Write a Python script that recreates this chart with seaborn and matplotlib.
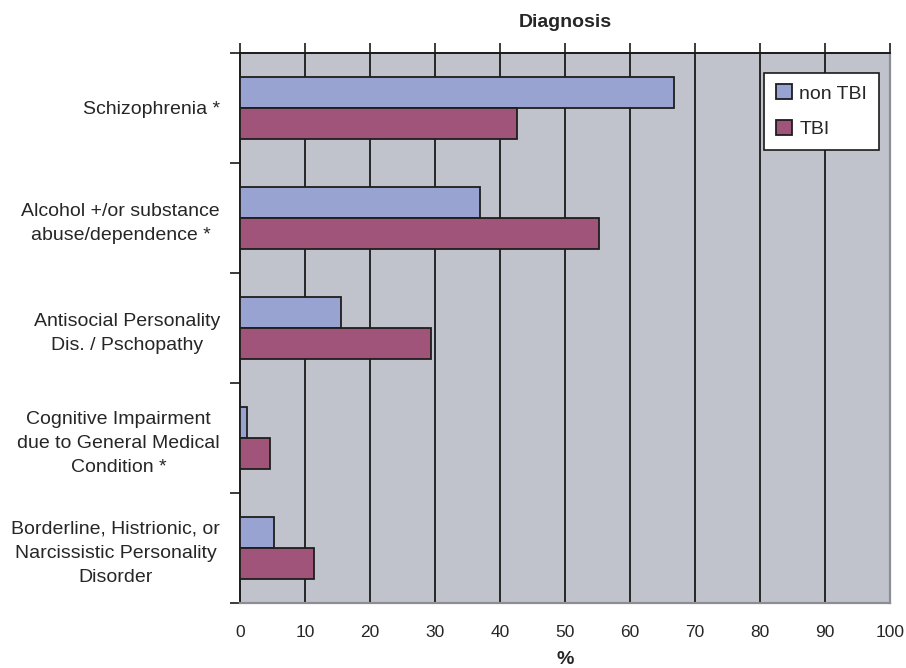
"""
Diagnosis by TBI status - horizontal grouped bar chart.
"""

import matplotlib
matplotlib.use("Agg")
import matplotlib.pyplot as plt
import seaborn as sns
import pandas as pd

categories = [
    "Schizophrenia *",
    "Alcohol +/or substance\nabuse/dependence *",
    "Antisocial Personality\nDis. / Pschopathy",
    "Cognitive Impairment\ndue to General Medical\nCondition *",
    "Borderline, Histrionic, or\nNarcissistic Personality\nDisorder",
]
non_tbi = [66.7, 36.9, 15.5, 1.1, 5.3]
tbi = [42.6, 55.2, 29.4, 4.6, 11.4]
groups = ["non TBI", "TBI"]
x_ticks = [0, 10, 20, 30, 40, 50, 60, 70, 80, 90, 100]

df = pd.DataFrame({
    "diagnosis": categories * 2,
    "pct": non_tbi + tbi,
    "group": [groups[0]] * len(categories) + [groups[1]] * len(categories),
})

sns.set_style("white")
plt.rcParams["font.family"] = ["Liberation Sans", "DejaVu Sans"]

fig = plt.figure(figsize=(9.06, 6.68), dpi=100)
ax = fig.add_axes([240 / 906, 1 - 603 / 668, 650 / 906, 550 / 668])
ax.set_facecolor("#c0c3cb")

palette = {"non TBI": "#99a3d2", "TBI": "#a0547a"}
sns.barplot(data=df, y="diagnosis", x="pct", hue="group", hue_order=groups,
            order=categories, palette=palette, orient="h", width=0.56,
            edgecolor="#1e1e1e", linewidth=1.3, saturation=1, ax=ax, zorder=3)

# vertical grid lines
for v in x_ticks[1:-1]:
    ax.axvline(v, color="#1a1a1a", linewidth=1.3, zorder=1)

ax.set_xlim(0, 100)
ax.set_ylim(len(categories) - 0.5, -0.5)
ax.set_xticks(x_ticks)
ax.set_xticklabels([str(t) for t in x_ticks], fontsize=12.5)
ax.tick_params(axis="x", top=True, bottom=False, labeltop=False, labelbottom=True,
               direction="out", length=7, width=1.2, color="#1a1a1a", pad=9)

ax.set_yticks(range(len(categories)))
ax.set_yticklabels(categories, fontsize=14, linespacing=1.55, ha="right",
                   multialignment="center")
ax.tick_params(axis="y", left=False, pad=11)
# category boundary ticks
ax.set_yticks([i - 0.5 for i in range(len(categories) + 1)], minor=True)
ax.tick_params(axis="y", which="minor", left=True, direction="out", length=7,
               width=1.2, color="#1a1a1a")

for side in ["left", "top"]:
    ax.spines[side].set_color("#1a1a1a")
    ax.spines[side].set_linewidth(1.4)
for side in ["right", "bottom"]:
    ax.spines[side].set_color("#8a8d94")
    ax.spines[side].set_linewidth(1.6)

ax.set_ylabel("")
ax.set_xlabel("%", fontsize=14, fontweight="bold", labelpad=8)
ax.set_title("Diagnosis", fontsize=14, fontweight="bold", pad=19)

leg = ax.legend(loc="upper right", bbox_to_anchor=(0.983, 0.964), fontsize=14,
                frameon=True, fancybox=False, edgecolor="#1a1a1a",
                facecolor="white", framealpha=1,
                handlelength=0.8, handleheight=0.8, handletextpad=0.4,
                borderpad=0.6, labelspacing=0.9, borderaxespad=0)
leg.get_frame().set_linewidth(1.2)
leg.set_zorder(5)

plt.savefig("out.png", dpi=100)
plt.close()
